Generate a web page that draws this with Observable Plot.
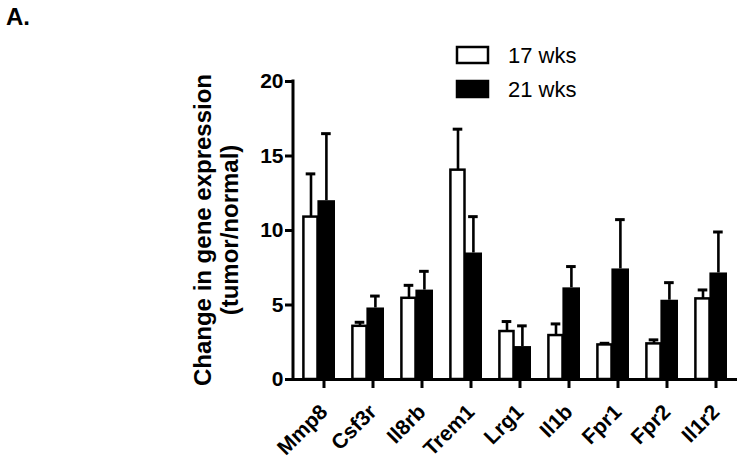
<!DOCTYPE html>
<html>
<head>
<meta charset="utf-8">
<script src="https://cdn.jsdelivr.net/npm/d3@7"></script>
<script src="https://cdn.jsdelivr.net/npm/@observablehq/plot@0.6"></script>
<style>
  html, body { margin: 0; padding: 0; background: #fff; }
  svg { display: block; }
</style>
</head>
<body>
<div id="chart"></div>
<script>
const genes = ["Mmp8", "Csf3r", "Il8rb", "Trem1", "Lrg1", "Il1b", "Fpr1", "Fpr2", "Il1r2"];
const series = ["17 wks", "21 wks"];
const wk17 = [10.9, 3.57, 5.45, 14.05, 3.22, 2.95, 2.32, 2.39, 5.41];
const wk17Err = [2.9, 0.27, 0.87, 2.75, 0.67, 0.78, 0.11, 0.27, 0.6];
const wk21 = [12.0, 4.8, 6.0, 8.49, 2.21, 6.15, 7.42, 5.32, 7.15];
const wk21Err = [4.5, 0.8, 1.26, 2.44, 1.39, 1.43, 3.31, 1.18, 2.75];
const yTicks = [0, 5, 10, 15, 20];
const yLabel = ["Change in gene expression", "(tumor/normal)"];
const panelLabel = "A.";

const d17 = genes.map((g, i) => ({gene: g, v: wk17[i], top: wk17[i] + wk17Err[i]}));
const d21 = genes.map((g, i) => ({gene: g, v: wk21[i], top: wk21[i] + wk21Err[i]}));

const font = "'Liberation Sans', Arial, Helvetica, sans-serif";
const W = 750, H = 462;
const mL = 293, mR = 13, mT = 81, mB = 83;

const chart = Plot.plot({
  width: W,
  height: H,
  marginLeft: mL,
  marginRight: mR,
  marginTop: mT,
  marginBottom: mB,
  style: {fontFamily: font, fontWeight: "bold", color: "#000", background: "#fff", overflow: "visible"},
  x: {domain: genes, paddingInner: 0.32, paddingOuter: 0.18, label: null},
  y: {domain: [0, 20], label: null},
  marks: [
    Plot.barY(d17, {x: "gene", y: "v", fill: "#fff", stroke: "#000", strokeWidth: 2.5, insetLeft: 1.4, insetRight: 17.5}),
    Plot.ruleX(d17, {x: "gene", y1: "v", y2: "top", stroke: "#000", strokeWidth: 2.6, dx: -8}),
    Plot.tickY(d17, {x: "gene", y: "top", stroke: "#000", strokeWidth: 3, dx: -8, insetLeft: 11.7, insetRight: 11.7}),
    Plot.barY(d21, {x: "gene", y: "v", fill: "#000", insetLeft: 15.4, insetRight: 0}),
    Plot.ruleX(d21, {x: "gene", y1: "v", y2: "top", stroke: "#000", strokeWidth: 2.6, dx: 7.4}),
    Plot.tickY(d21, {x: "gene", y: "top", stroke: "#000", strokeWidth: 3, dx: 7.4, insetLeft: 11.7, insetRight: 11.7}),
    Plot.ruleY([0], {stroke: "#000", strokeWidth: 3}),
    Plot.axisY({ticks: yTicks, tickSize: 8, tickPadding: 2, strokeWidth: 3, fontSize: 21, fontWeight: "bold", label: null}),
    Plot.axisX({tickSize: 9, tickPadding: 20, tickRotate: -45, strokeWidth: 3, fontSize: 21, fontWeight: "bold", label: null, dx: 5})
  ]
});

document.getElementById("chart").appendChild(chart);

const svg = d3.select(chart);
const yScale = chart.scale("y");
const y0 = yScale.range[0], y1 = yScale.range[1];

// y axis line
svg.append("line")
  .attr("x1", mL).attr("x2", mL)
  .attr("y1", y1 - 1.5).attr("y2", y0 + 1.5)
  .attr("stroke", "#000").attr("stroke-width", 3);

// Panel label
svg.append("text")
  .attr("x", 6).attr("y", 25)
  .attr("text-anchor", "start")
  .attr("font-family", font).attr("font-weight", "bold").attr("font-size", 24)
  .attr("fill", "#000")
  .text(panelLabel);

// Y axis title (two lines, rotated)
const cy = (y0 + y1) / 2;
[211, 238].forEach((bx, i) => {
  svg.append("text")
    .attr("transform", `translate(${bx},${cy}) rotate(-90)`)
    .attr("text-anchor", "middle")
    .attr("font-family", font).attr("font-weight", "bold").attr("font-size", 24)
    .attr("fill", "#000")
    .text(yLabel[i]);
});

// Legend
const leg = svg.append("g");
[["#fff", 46], ["#000", 80]].forEach(([fill, top], i) => {
  leg.append("rect")
    .attr("x", 457).attr("y", top + 1)
    .attr("width", 31).attr("height", 16)
    .attr("fill", fill).attr("stroke", "#000").attr("stroke-width", 2.5);
  leg.append("text")
    .attr("x", 508).attr("y", top + 17)
    .attr("text-anchor", "start")
    .attr("font-family", font).attr("font-weight", "normal").attr("font-size", 22)
    .attr("fill", "#000")
    .text(series[i]);
});
</script>
</body>
</html>
